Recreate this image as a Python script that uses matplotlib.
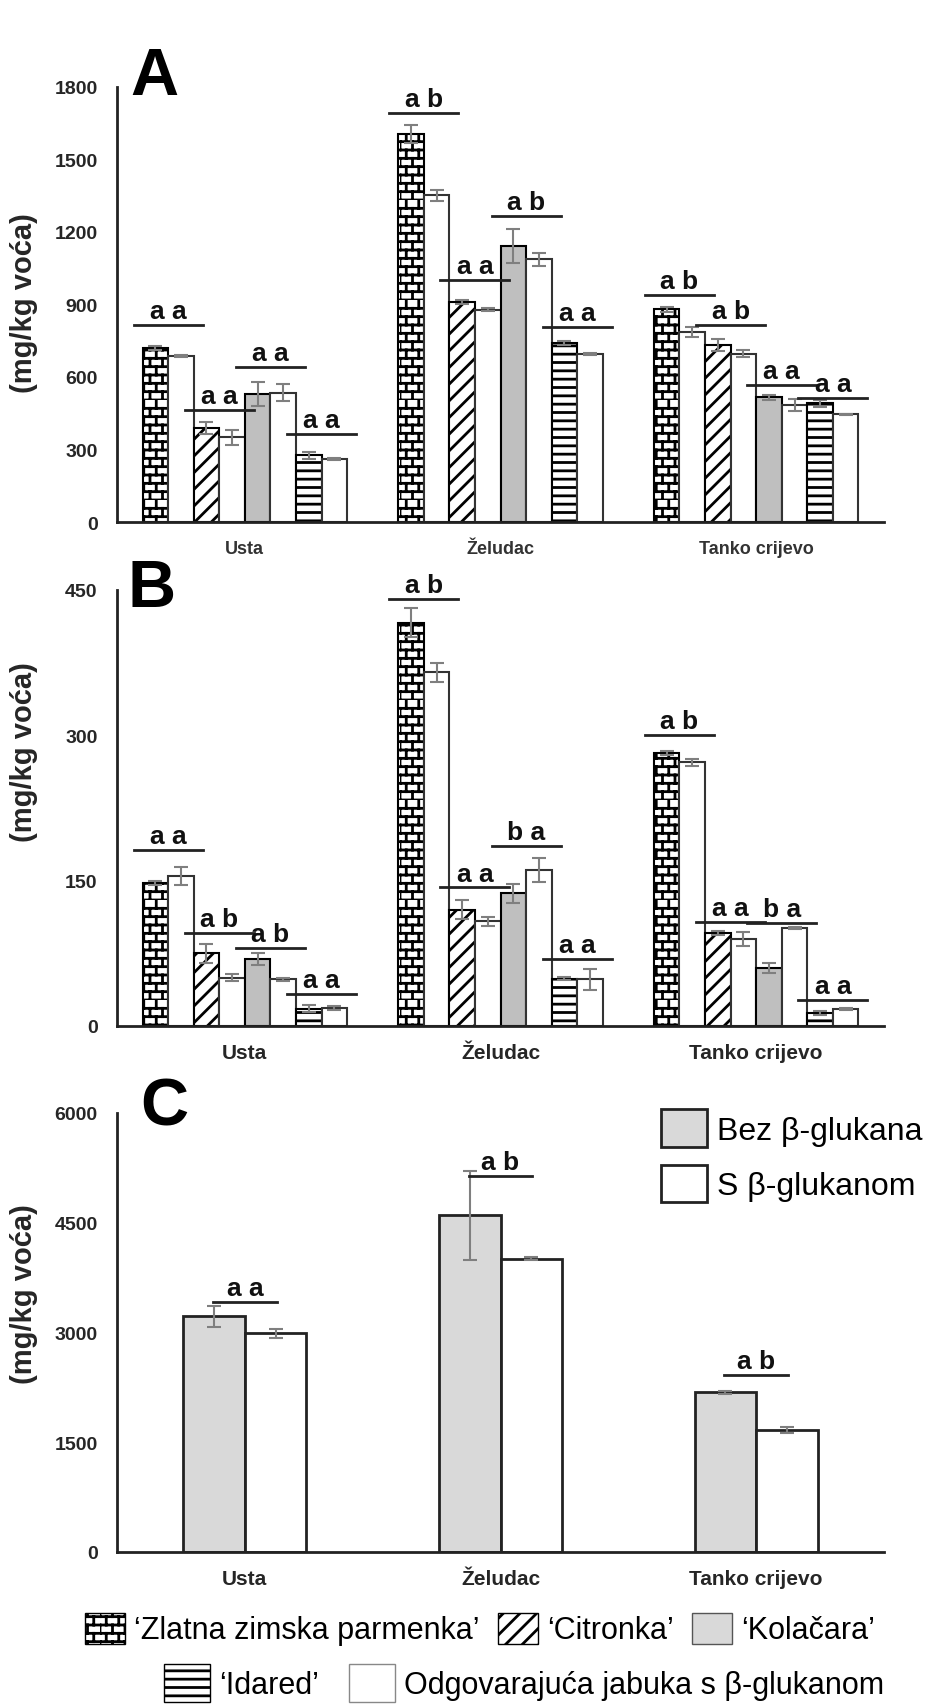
import warnings
import matplotlib.pyplot as plt
import matplotlib.hatch as mhatch
import numpy as np
from matplotlib.patches import Patch
from matplotlib.path import Path

plt.rcParams['font.family'] = ['Liberation Sans', 'DejaVu Sans']
plt.rcParams['hatch.linewidth'] = 2.0
warnings.filterwarnings("ignore", message=".*hatch.*")

organs = ["Usta", "Želudac", "Tanko crijevo"]
varieties = ["‘Zlatna zimska parmenka’", "‘Citronka’", "‘Kolačara’", "‘Idared’"]
beta_label = "Odgovarajuća jabuka s β-glukanom"
c_labels = ["Bez β-glukana", "S β-glukanom"]

# panel A (rows = organs, columns = varieties)
a_ctrl = [[720, 390, 530, 275], [1605, 910, 1140, 740], [880, 730, 515, 490]]
a_ctrl_err = [[8, 25, 50, 15], [37, 8, 70, 8], [10, 25, 10, 15]]
a_beta = [[685, 350, 535, 260], [1350, 878, 1085, 695], [785, 695, 485, 445]]
a_beta_err = [[5, 30, 35, 5], [23, 5, 25, 5], [20, 15, 25, 3]]
a_sig = [[815, 462, 639, 364], [1690, 1000, 1265, 805], [937, 816, 568, 512]]
a_sig_txt = [["a a", "a a", "a a", "a a"], ["a b", "a a", "a b", "a a"], ["a b", "a b", "a a", "a a"]]

# panel B
b_ctrl = [[148, 75, 69, 18], [416, 120, 137, 49], [282, 96, 60, 13]]
b_ctrl_err = [[2, 10, 6, 4], [15, 10, 10, 2], [2, 2, 5, 2]]
b_beta = [[155, 50, 48, 19], [365, 108, 161, 48], [272, 90, 101, 18]]
b_beta_err = [[9, 4, 2, 2], [10, 5, 12, 11], [4, 7, 1, 1]]
b_sig = [[182, 96, 81, 33], [441, 143, 186, 69], [300, 107, 106, 27]]
b_sig_txt = [["a a", "a b", "a b", "a a"], ["a b", "a a", "b a", "a a"], ["a b", "a a", "b a", "a a"]]

# panel C
c_ctrl = [3220, 4600, 2180]
c_ctrl_err = [145, 610, 25]
c_beta = [2990, 4010, 1670]
c_beta_err = [60, 20, 40]
c_sig = [3413, 5145, 2422]
c_sig_txt = ["a a", "a b", "a b"]


# brick hatch ('b'): rows of bricks, every other row shifted half a brick
class BrickHatch(mhatch.HatchPatternBase):
    def __init__(self, hatch, density):
        self.rows = hatch.count("b") * 2 * density
        self.cols = hatch.count("b") * 4 * density // 3
        self.num_vertices = 2 * self.rows * (self.cols + 1)

    def set_vertices_and_codes(self, vertices, codes):
        k = 0
        for i in range(self.rows):
            y = i / self.rows
            vertices[k] = (0, y)
            vertices[k + 1] = (1, y)
            k += 2
            for j in range(self.cols):
                x = (j + 0.5 * (i % 2)) / self.cols
                vertices[k] = (x, y)
                vertices[k + 1] = (x, y + 1 / self.rows)
                k += 2
        codes[0::2] = Path.MOVETO
        codes[1::2] = Path.LINETO


mhatch._hatch_types.append(BrickHatch)

fills = ["white", "white", "#bfbfbf", "white"]
hatches = ["b", "//", None, "--"]
ink = "#222222"
errc = "#7f7f7f"

fig = plt.figure(figsize=(9.25, 17.08), dpi=100)
W, H = 925, 1708


def make_axes(top, bottom):
    ax = fig.add_axes([117 / W, 1 - bottom / H, 767 / W, (bottom - top) / H])
    for s in ["top", "right"]:
        ax.spines[s].set_visible(False)
    for s in ["left", "bottom"]:
        ax.spines[s].set_linewidth(2)
        ax.spines[s].set_color(ink)
    ax.set_xlim(-0.5, 2.5)
    ax.tick_params(axis="y", length=0, pad=14, labelsize=14, labelcolor="#262626")
    return ax


def sig_mark(ax, xc, level, txt, half):
    ax.plot([xc - half, xc + half], [level, level], color=ink, lw=2, zorder=4)
    ax.annotate(txt, (xc, level), xytext=(0, 5), textcoords="offset points",
                ha="center", va="baseline", fontsize=19, fontweight="bold", color="#111", zorder=5)


def variety_panel(ax, ctrl, ctrl_err, beta, beta_err, sig, sig_txt):
    x = np.arange(len(organs))
    w = 0.1
    ctrl = np.array(ctrl)
    beta = np.array(beta)
    for v in range(4):
        xc = x - 0.35 + 0.2 * v
        ax.bar(xc, ctrl[:, v], w, color=fills[v], hatch=hatches[v], edgecolor="black", linewidth=1.5, zorder=2)
        ax.bar(xc + w, beta[:, v], w, color="white", edgecolor="#333", linewidth=1.5, zorder=2)
        ax.errorbar(xc, ctrl[:, v], yerr=np.array(ctrl_err)[:, v], fmt="none", ecolor=errc,
                    elinewidth=1.5, capsize=5, capthick=1.5, zorder=3)
        ax.errorbar(xc + w, beta[:, v], yerr=np.array(beta_err)[:, v], fmt="none", ecolor=errc,
                    elinewidth=1.5, capsize=5, capthick=1.5, zorder=3)
    for g in range(len(organs)):
        for v in range(4):
            sig_mark(ax, g - 0.3 + 0.2 * v, sig[g][v], sig_txt[g][v], 0.135)
    ax.set_xticks(x)
    ax.set_xticklabels(organs, fontweight="bold")


#A
ax_a = make_axes(87.5, 523)
variety_panel(ax_a, a_ctrl, a_ctrl_err, a_beta, a_beta_err, a_sig, a_sig_txt)
ax_a.set_ylim(0, 1800)
ax_a.set_yticks(np.arange(0, 1801, 300))
ax_a.tick_params(axis="x", length=0, pad=13, labelsize=13, labelcolor="#333")
ax_a.set_ylabel("(mg/kg voća)", fontsize=21, fontweight="bold", color="#262626")
ax_a.yaxis.set_label_coords(-0.103, 0.505)

#B
ax_b = make_axes(591, 1027)
variety_panel(ax_b, b_ctrl, b_ctrl_err, b_beta, b_beta_err, b_sig, b_sig_txt)
ax_b.set_ylim(0, 450)
ax_b.set_yticks([0, 150, 300, 450])
ax_b.tick_params(axis="x", length=0, pad=12, labelsize=15, labelcolor="#262626")
ax_b.set_ylabel("(mg/kg voća)", fontsize=21, fontweight="bold", color="#262626")
ax_b.yaxis.set_label_coords(-0.103, 0.63)

#C
ax_c = make_axes(1114, 1553)
xg = np.arange(len(organs))
ax_c.bar(xg - 0.12, c_ctrl, 0.24, color="#d9d9d9", edgecolor=ink, linewidth=2, zorder=2, label=c_labels[0])
ax_c.bar(xg + 0.12, c_beta, 0.24, color="white", edgecolor=ink, linewidth=2, zorder=2, label=c_labels[1])
ax_c.errorbar(xg - 0.12, c_ctrl, yerr=c_ctrl_err, fmt="none", ecolor=errc, elinewidth=1.5, capsize=5, capthick=1.5, zorder=3)
ax_c.errorbar(xg + 0.12, c_beta, yerr=c_beta_err, fmt="none", ecolor=errc, elinewidth=1.5, capsize=5, capthick=1.5, zorder=3)
for g in range(len(organs)):
    sig_mark(ax_c, g, c_sig[g], c_sig_txt[g], 0.125)
ax_c.set_ylim(0, 6000)
ax_c.set_yticks(np.arange(0, 6001, 1500))
ax_c.set_xticks(xg)
ax_c.set_xticklabels(organs, fontweight="bold")
ax_c.tick_params(axis="x", length=0, pad=12, labelsize=15, labelcolor="#262626")
ax_c.set_ylabel("(mg/kg voća)", fontsize=21, fontweight="bold", color="#262626")
ax_c.yaxis.set_label_coords(-0.103, 0.59)
ax_c.legend(loc="upper left", bbox_to_anchor=(661 / W, 1 - 1110 / H), bbox_transform=fig.transFigure,
            frameon=False, fontsize=23, handlelength=1.45, handleheight=1.45, handletextpad=0.3,
            labelspacing=0.55, borderpad=0, borderaxespad=0)

for ax in (ax_a, ax_b, ax_c):
    for t in ax.get_yticklabels():
        t.set_fontweight("bold")

# panel letters
fig.text(130 / W, 1 - 95 / H, "A", fontsize=48, fontweight="bold", va="baseline")
fig.text(127 / W, 1 - 607 / H, "B", fontsize=48, fontweight="bold", va="baseline")
fig.text(140 / W, 1 - 1126 / H, "C", fontsize=48, fontweight="bold", va="baseline")

# bottom legend
handles = [Patch(facecolor=fills[v], hatch=hatches[v], edgecolor="black", label=varieties[v]) for v in range(4)]
handles[2] = Patch(facecolor="#d9d9d9", edgecolor="#555", label=varieties[2])
handles.append(Patch(facecolor="white", edgecolor="#888", label=beta_label))
fig.legend(handles=handles[:3], loc="center", bbox_to_anchor=(480 / W, 1 - 1630 / H), ncol=3, frameon=False,
           fontsize=22, handlelength=1.3, handleheight=1.2, handletextpad=0.3, columnspacing=0.6,
           borderpad=0, borderaxespad=0)
fig.legend(handles=handles[3:], loc="center", bbox_to_anchor=(524 / W, 1 - 1684 / H), ncol=2, frameon=False,
           fontsize=22, handlelength=1.5, handleheight=1.5, handletextpad=0.3, columnspacing=1.0,
           borderpad=0, borderaxespad=0)

plt.savefig("out.png", dpi=100)
